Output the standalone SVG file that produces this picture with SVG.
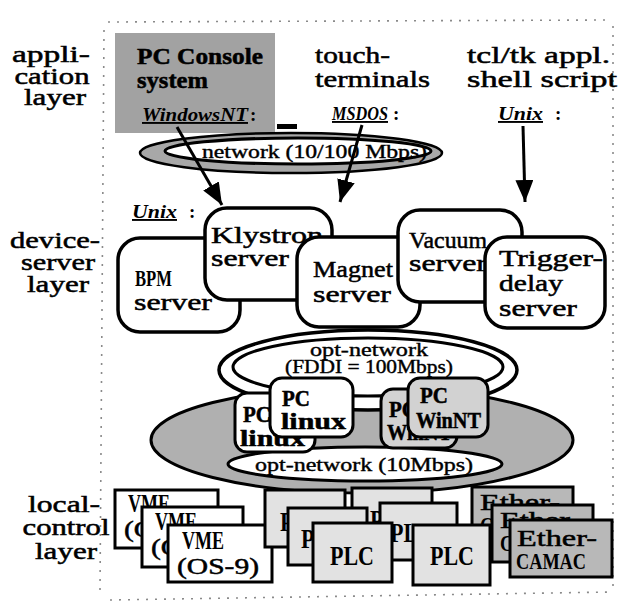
<svg xmlns="http://www.w3.org/2000/svg" width="618" height="607" viewBox="0 0 618 607">
<style>
.t{font-family:"Liberation Serif","DejaVu Serif",serif;font-size:23px;fill:#000;stroke:#000;stroke-width:0.5}
.s{font-family:"Liberation Serif","DejaVu Serif",serif;font-weight:bold;fill:#000}
.n{font-family:"Liberation Serif","DejaVu Serif",serif;font-size:19px;fill:#000;stroke:#000;stroke-width:0.4}
.os{font-family:"Liberation Serif","DejaVu Serif",serif;font-style:italic;font-weight:bold;font-size:19px;fill:#000;text-decoration:underline}
.lbl{text-anchor:middle}
.srv{fill:#fff;stroke:#000;stroke-width:3.5}
.pc{stroke:#000;stroke-width:3}
.box{stroke:#000;stroke-width:3}
.dot{fill:none;stroke:#8a8a8a;stroke-width:1.6;stroke-dasharray:2 7}
.arr{stroke:#000;stroke-width:3;fill:none;marker-end:url(#ah)}
</style>
<defs>
<marker id="ah" markerUnits="userSpaceOnUse" markerWidth="24" markerHeight="20" refX="22" refY="9" orient="auto">
<path d="M0,0 L22,9 L0,18 z" fill="#000"/>
</marker>
</defs>
<rect width="618" height="607" fill="#fff"/>
<g id="frame">
<path class="dot" d="M108 22 L610 20"/>
<path class="dot" d="M104 30 L100 590"/>
<path class="dot" d="M110 600 L612 592"/>
<path class="dot" d="M613 26 L613 588"/>
</g>
<g id="layer-labels">
<text class="t lbl" x="51" y="62" textLength="78" lengthAdjust="spacingAndGlyphs">appli-</text>
<text class="t lbl" x="52" y="84" textLength="75" lengthAdjust="spacingAndGlyphs">cation</text>
<text class="t lbl" x="55" y="105" textLength="62" lengthAdjust="spacingAndGlyphs">layer</text>
<text class="t lbl" x="55" y="248" textLength="90" lengthAdjust="spacingAndGlyphs">device-</text>
<text class="t lbl" x="58" y="270" textLength="74" lengthAdjust="spacingAndGlyphs">server</text>
<text class="t lbl" x="58" y="292" textLength="62" lengthAdjust="spacingAndGlyphs">layer</text>
<text class="t lbl" x="64" y="512" textLength="72" lengthAdjust="spacingAndGlyphs">local-</text>
<text class="t lbl" x="66" y="535" textLength="87" lengthAdjust="spacingAndGlyphs">control</text>
<text class="t lbl" x="66" y="559" textLength="62" lengthAdjust="spacingAndGlyphs">layer</text>
</g>
<g id="pc-console">
<rect x="115" y="33" width="160" height="100" fill="#a2a2a2"/>
<text class="t" x="137" y="64" font-weight="bold" textLength="126" lengthAdjust="spacingAndGlyphs">PC Console</text>
<text class="t" x="137" y="88" font-weight="bold" textLength="71" lengthAdjust="spacingAndGlyphs">system</text>
<text class="os" x="142" y="121" textLength="106" lengthAdjust="spacingAndGlyphs">WindowsNT</text>
<text class="s" x="250" y="121" font-size="19">:</text>
<rect x="277" y="124" width="20" height="5" fill="#000"/>
</g>
<g id="touch-terminals">
<text class="t" x="315" y="63" textLength="75" lengthAdjust="spacingAndGlyphs">touch-</text>
<text class="t" x="315" y="87" textLength="115" lengthAdjust="spacingAndGlyphs">terminals</text>
<text class="os" x="332" y="120" textLength="56" lengthAdjust="spacingAndGlyphs">MSDOS</text>
<text class="s" x="393" y="120" font-size="19">:</text>
</g>
<g id="tcl-tk">
<text class="t" x="467" y="63" textLength="143" lengthAdjust="spacingAndGlyphs">tcl/tk appl.</text>
<text class="t" x="467" y="87" textLength="150" lengthAdjust="spacingAndGlyphs">shell script</text>
<text class="os" x="498" y="120" textLength="45" lengthAdjust="spacingAndGlyphs">Unix</text>
<text class="s" x="555" y="120" font-size="19">:</text>
</g>
<g id="network">
<ellipse cx="291" cy="153" rx="151" ry="20" fill="#a8a8a8" stroke="#000" stroke-width="2.5"/>
<ellipse cx="298" cy="151" rx="133" ry="13" fill="#fff" stroke="#000" stroke-width="3"/>
<text class="n" x="202" y="158" textLength="225" lengthAdjust="spacingAndGlyphs">network (10/100 Mbps)</text>
</g>
<g id="connectors">
<line class="arr" x1="177" y1="127" x2="222" y2="205"/>
<line class="arr" x1="362" y1="125" x2="340" y2="202"/>
<line class="arr" x1="523" y1="126" x2="525" y2="202"/>
</g>
<g id="unix-label">
<text class="os" x="132" y="218" textLength="45" lengthAdjust="spacingAndGlyphs">Unix</text>
<text class="s" x="189" y="218" font-size="19">:</text>
</g>
<g id="lan-10mbps">
<ellipse cx="362" cy="440" rx="211" ry="53" fill="#b0b0b0" stroke="#000" stroke-width="3"/>
<ellipse cx="365" cy="464" rx="137" ry="17" fill="#fff" stroke="#000" stroke-width="3"/>
<text class="n" x="255" y="471" textLength="218" lengthAdjust="spacingAndGlyphs">opt-network (10Mbps)</text>
</g>
<g id="fddi">
<ellipse cx="368" cy="370" rx="149" ry="40" fill="#fff" stroke="#000" stroke-width="3.5"/>
<ellipse cx="368" cy="367" rx="135" ry="29" fill="#fff" stroke="#000" stroke-width="3"/>
<text class="n lbl" x="369" y="356" textLength="118" lengthAdjust="spacingAndGlyphs">opt-network</text>
<text class="n lbl" x="369" y="373" textLength="168" lengthAdjust="spacingAndGlyphs">(FDDI = 100Mbps)</text>
</g>
<g id="bpm-server">
<rect class="srv" x="118" y="238" width="122" height="94" rx="22"/>
<text class="s" x="135" y="286" font-size="24" textLength="37" lengthAdjust="spacingAndGlyphs">BPM</text>
<text class="t" x="134" y="310" textLength="78" lengthAdjust="spacingAndGlyphs">server</text>
</g>
<g id="klystron-server">
<rect class="srv" x="205" y="208" width="127" height="92" rx="22"/>
<text class="t" x="211" y="243" textLength="112" lengthAdjust="spacingAndGlyphs">Klystron</text>
<text class="t" x="211" y="266" textLength="78" lengthAdjust="spacingAndGlyphs">server</text>
</g>
<g id="magnet-server">
<rect class="srv" x="297" y="237" width="123" height="90" rx="22"/>
<text class="t" x="313" y="277" textLength="80" lengthAdjust="spacingAndGlyphs">Magnet</text>
<text class="t" x="313" y="302" textLength="78" lengthAdjust="spacingAndGlyphs">server</text>
</g>
<g id="vacuum-server">
<rect class="srv" x="398" y="210" width="124" height="92" rx="22"/>
<text class="t" x="409" y="248" textLength="78" lengthAdjust="spacingAndGlyphs">Vacuum</text>
<text class="t" x="409" y="271" textLength="78" lengthAdjust="spacingAndGlyphs">server</text>
</g>
<g id="trigger-server">
<rect class="srv" x="485" y="237" width="120" height="91" rx="22"/>
<text class="t" x="499" y="266" textLength="104" lengthAdjust="spacingAndGlyphs">Trigger-</text>
<text class="t" x="499" y="291" textLength="64" lengthAdjust="spacingAndGlyphs">delay</text>
<text class="t" x="499" y="316" textLength="78" lengthAdjust="spacingAndGlyphs">server</text>
</g>
<g id="pc-linux-1">
<rect class="pc" x="235" y="393" width="80" height="59" rx="12" fill="#fff"/>
<text class="t" x="243" y="422" font-weight="bold" textLength="28" lengthAdjust="spacingAndGlyphs">PC</text>
<text class="t" x="240" y="446" font-weight="bold" textLength="65" lengthAdjust="spacingAndGlyphs">linux</text>
</g>
<g id="pc-linux-2">
<rect class="pc" x="270" y="378" width="83" height="59" rx="12" fill="#fff"/>
<text class="t" x="282" y="406" font-weight="bold" textLength="28" lengthAdjust="spacingAndGlyphs">PC</text>
<text class="t" x="281" y="429" font-weight="bold" textLength="65" lengthAdjust="spacingAndGlyphs">linux</text>
</g>
<g id="pc-winnt-1">
<rect class="pc" x="381" y="389" width="76" height="59" rx="12" fill="#d2d2d2"/>
<text class="t" x="389" y="417" font-weight="bold" textLength="28" lengthAdjust="spacingAndGlyphs">PC</text>
<text class="t" x="387" y="440" font-weight="bold" textLength="65" lengthAdjust="spacingAndGlyphs">WinNT</text>
</g>
<g id="pc-winnt-2">
<rect class="pc" x="408" y="378" width="80" height="59" rx="12" fill="#d2d2d2"/>
<text class="t" x="420" y="403" font-weight="bold" textLength="28" lengthAdjust="spacingAndGlyphs">PC</text>
<text class="t" x="416" y="428" font-weight="bold" textLength="65" lengthAdjust="spacingAndGlyphs">WinNT</text>
</g>
<g id="vme-1">
<rect class="box" x="115" y="490" width="103" height="58" fill="#fff"/>
<text class="s" x="128" y="512" font-size="26" textLength="42" lengthAdjust="spacingAndGlyphs">VME</text>
<text class="t" x="124" y="537" textLength="82" lengthAdjust="spacingAndGlyphs">(OS-9)</text>
</g>
<g id="vme-2">
<rect class="box" x="142" y="507" width="101" height="60" fill="#fff"/>
<text class="s" x="155" y="530" font-size="26" textLength="42" lengthAdjust="spacingAndGlyphs">VME</text>
<text class="t" x="151" y="555" textLength="82" lengthAdjust="spacingAndGlyphs">(OS-9)</text>
</g>
<g id="vme-3">
<rect class="box" x="168" y="525" width="104" height="57" fill="#fff"/>
<text class="s" x="182" y="549" font-size="26" textLength="42" lengthAdjust="spacingAndGlyphs">VME</text>
<text class="t" x="177" y="574" textLength="82" lengthAdjust="spacingAndGlyphs">(OS-9)</text>
</g>
<g id="plc-1">
<rect class="box" x="265" y="490" width="80" height="57" fill="#e2e2e2"/>
<text class="s" x="280" y="531" font-size="27" textLength="44" lengthAdjust="spacingAndGlyphs">PLC</text>
</g>
<g id="plc-2">
<rect class="box" x="352" y="488" width="80" height="57" fill="#e2e2e2"/>
<text class="s" x="370" y="529" font-size="27" textLength="44" lengthAdjust="spacingAndGlyphs">PLC</text>
</g>
<g id="plc-3">
<rect class="box" x="288" y="508" width="79" height="57" fill="#e2e2e2"/>
<text class="s" x="301" y="548" font-size="27" textLength="44" lengthAdjust="spacingAndGlyphs">PLC</text>
</g>
<g id="plc-4">
<rect class="box" x="380" y="503" width="77" height="57" fill="#e2e2e2"/>
<text class="s" x="390" y="542" font-size="27" textLength="44" lengthAdjust="spacingAndGlyphs">PLC</text>
</g>
<g id="ether-camac-1">
<rect class="box" x="472" y="487" width="101" height="56" fill="#b8b8b8"/>
<text class="t" x="480" y="510" textLength="80" lengthAdjust="spacingAndGlyphs">Ether-</text>
<text class="s" x="480" y="533" font-size="24" textLength="70" lengthAdjust="spacingAndGlyphs">CAMAC</text>
</g>
<g id="plc-5">
<rect class="box" x="313" y="523" width="79" height="59" fill="#e2e2e2"/>
<text class="s" x="330" y="565" font-size="27" textLength="44" lengthAdjust="spacingAndGlyphs">PLC</text>
</g>
<g id="plc-6">
<rect class="box" x="413" y="525" width="77" height="60" fill="#e2e2e2"/>
<text class="s" x="430" y="565" font-size="27" textLength="44" lengthAdjust="spacingAndGlyphs">PLC</text>
</g>
<g id="ether-camac-2">
<rect class="box" x="492" y="505" width="101" height="57" fill="#b8b8b8"/>
<text class="t" x="500" y="528" textLength="80" lengthAdjust="spacingAndGlyphs">Ether-</text>
<text class="s" x="500" y="551" font-size="24" textLength="70" lengthAdjust="spacingAndGlyphs">CAMAC</text>
</g>
<g id="ether-camac-3">
<rect class="box" x="510" y="520" width="102" height="57" fill="#b8b8b8"/>
<text class="t" x="517" y="546" textLength="80" lengthAdjust="spacingAndGlyphs">Ether-</text>
<text class="s" x="516" y="569" font-size="24" textLength="70" lengthAdjust="spacingAndGlyphs">CAMAC</text>
</g>
</svg>
